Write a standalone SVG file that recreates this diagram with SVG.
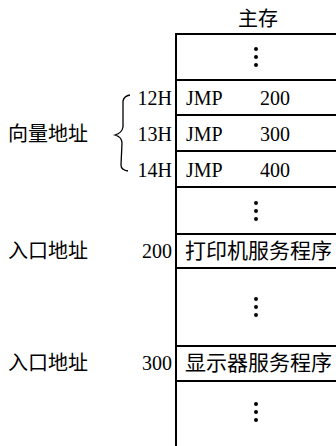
<svg xmlns="http://www.w3.org/2000/svg" width="336" height="446" viewBox="0 0 336 446">
<style>
.ln{stroke:#000;stroke-width:2;fill:none}
.cn{font-family:"Noto Sans CJK SC","Noto Sans CJK JP",sans-serif;font-size:20px;fill:#000}
.cb{font-family:"Noto Sans CJK SC","Noto Sans CJK JP",sans-serif;font-size:21px;fill:#000}
.se{font-family:"Liberation Serif",serif;font-size:20px;fill:#000}
.dot{fill:#000}
</style>
<defs>
<g id="vdots"><circle class="dot" cx="0" cy="0" r="2"/><circle class="dot" cx="0" cy="8" r="2"/><circle class="dot" cx="0" cy="16" r="2"/></g>
</defs>
<text class="cn" x="258" y="26" text-anchor="middle">主存</text>
<g id="memory">
<line class="ln" x1="176" y1="34" x2="176" y2="446"/>
<line class="ln" x1="175" y1="34" x2="336" y2="34"/>
<line class="ln" x1="175" y1="80" x2="336" y2="80"/>
<line class="ln" x1="175" y1="115" x2="336" y2="115"/>
<line class="ln" x1="175" y1="151" x2="336" y2="151"/>
<line class="ln" x1="175" y1="187" x2="336" y2="187"/>
<line class="ln" x1="175" y1="234" x2="336" y2="234"/>
<line class="ln" x1="175" y1="268" x2="336" y2="268"/>
<line class="ln" x1="175" y1="346" x2="336" y2="346"/>
<line class="ln" x1="175" y1="381" x2="336" y2="381"/>
</g>
<g id="cell-top"><use href="#vdots" x="256" y="49"/></g>
<g id="cell-12H"><text class="se" x="186" y="105">JMP</text><text class="se" x="260" y="105">200</text><text class="se" x="172" y="105" text-anchor="end">12H</text></g>
<g id="cell-13H"><text class="se" x="186" y="141">JMP</text><text class="se" x="260" y="141">300</text><text class="se" x="172" y="141" text-anchor="end">13H</text></g>
<g id="cell-14H"><text class="se" x="186" y="177">JMP</text><text class="se" x="260" y="177">400</text><text class="se" x="172" y="177" text-anchor="end">14H</text></g>
<g id="cell-gap1"><use href="#vdots" x="256" y="203"/></g>
<g id="cell-printer"><text class="cb" x="185" y="258">打印机服务程序</text><text class="se" x="172" y="258" text-anchor="end">200</text></g>
<g id="cell-gap2"><use href="#vdots" x="256" y="299"/></g>
<g id="cell-display"><text class="cb" x="185" y="370">显示器服务程序</text><text class="se" x="172" y="370" text-anchor="end">300</text></g>
<g id="cell-gap3"><use href="#vdots" x="256" y="404"/></g>
<g id="label-vector"><text class="cn" x="8" y="141">向量地址</text>
<path d="M130,95 Q124,96 123,101 L123,127 Q122,133 115,135 Q122,137 122,143 L121,165 Q121,170 128,171" stroke="#000" stroke-width="1.3" fill="none"/></g>
<g id="label-entry1"><text class="cn" x="8" y="258">入口地址</text></g>
<g id="label-entry2"><text class="cn" x="8" y="370">入口地址</text></g>
</svg>
